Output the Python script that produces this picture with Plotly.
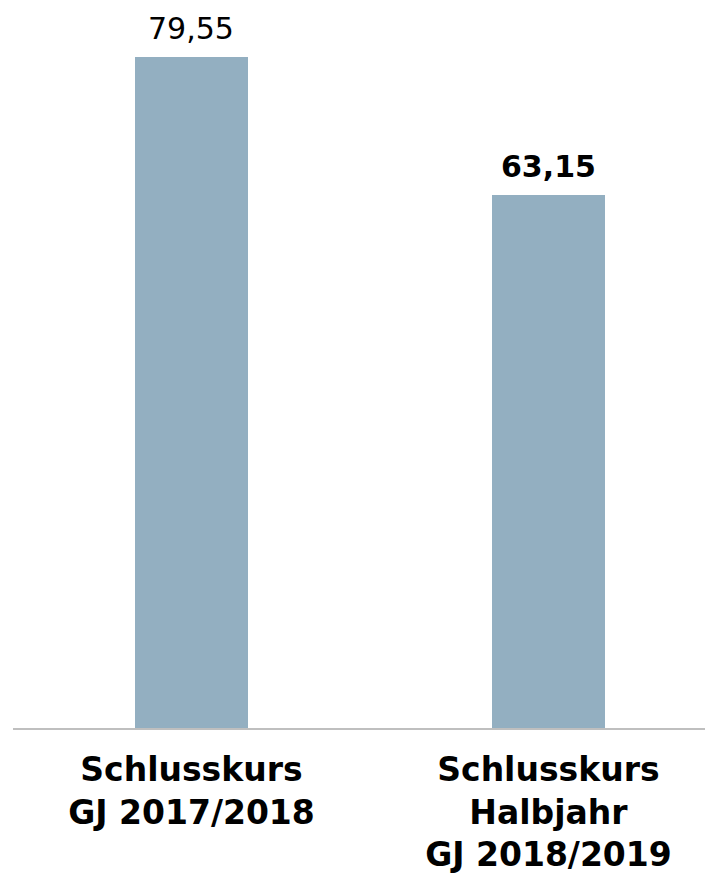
import plotly.graph_objects as go

categories = ["Schlusskurs<br>GJ 2017/2018", "Schlusskurs<br>Halbjahr<br>GJ 2018/2019"]
values = [79.55, 63.15]
value_labels = ["79,55", "63,15"]
label_bold = [False, True]

bar_color = "#93AFC1"
font_family = "DejaVu Sans, Liberation Sans, Arial, sans-serif"

fig = go.Figure()
fig.add_trace(go.Bar(
    x=[0, 1],
    y=values,
    width=0.317,
    marker=dict(color=bar_color, line=dict(width=0)),
    hoverinfo="skip",
))

for i, (v, lab, b) in enumerate(zip(values, value_labels, label_bold)):
    fig.add_annotation(
        x=i, y=v, text=lab, showarrow=False,
        xanchor="center", yanchor="bottom", yshift=9,
        font=dict(family=font_family, size=30, color="#000000",
                  weight="bold" if b else "normal"),
    )

fig.update_layout(
    width=705, height=870,
    margin=dict(l=5, r=0, t=0, b=150),
    paper_bgcolor="white", plot_bgcolor="white",
    showlegend=False,
    bargap=0,
    xaxis=dict(
        range=[-0.5, 1.461],
        tickvals=[0, 1], ticktext=categories,
        showline=True, linecolor="#BFBFBF", linewidth=2,
        showgrid=False, zeroline=False, ticks="",
        tickfont=dict(family=font_family, size=33, color="#000000", weight="bold"),
        ticklabelstandoff=11,
    ),
    yaxis=dict(
        range=[0, 85.36], visible=False, showgrid=False, zeroline=False,
    ),
)

fig.write_html("out.html")
